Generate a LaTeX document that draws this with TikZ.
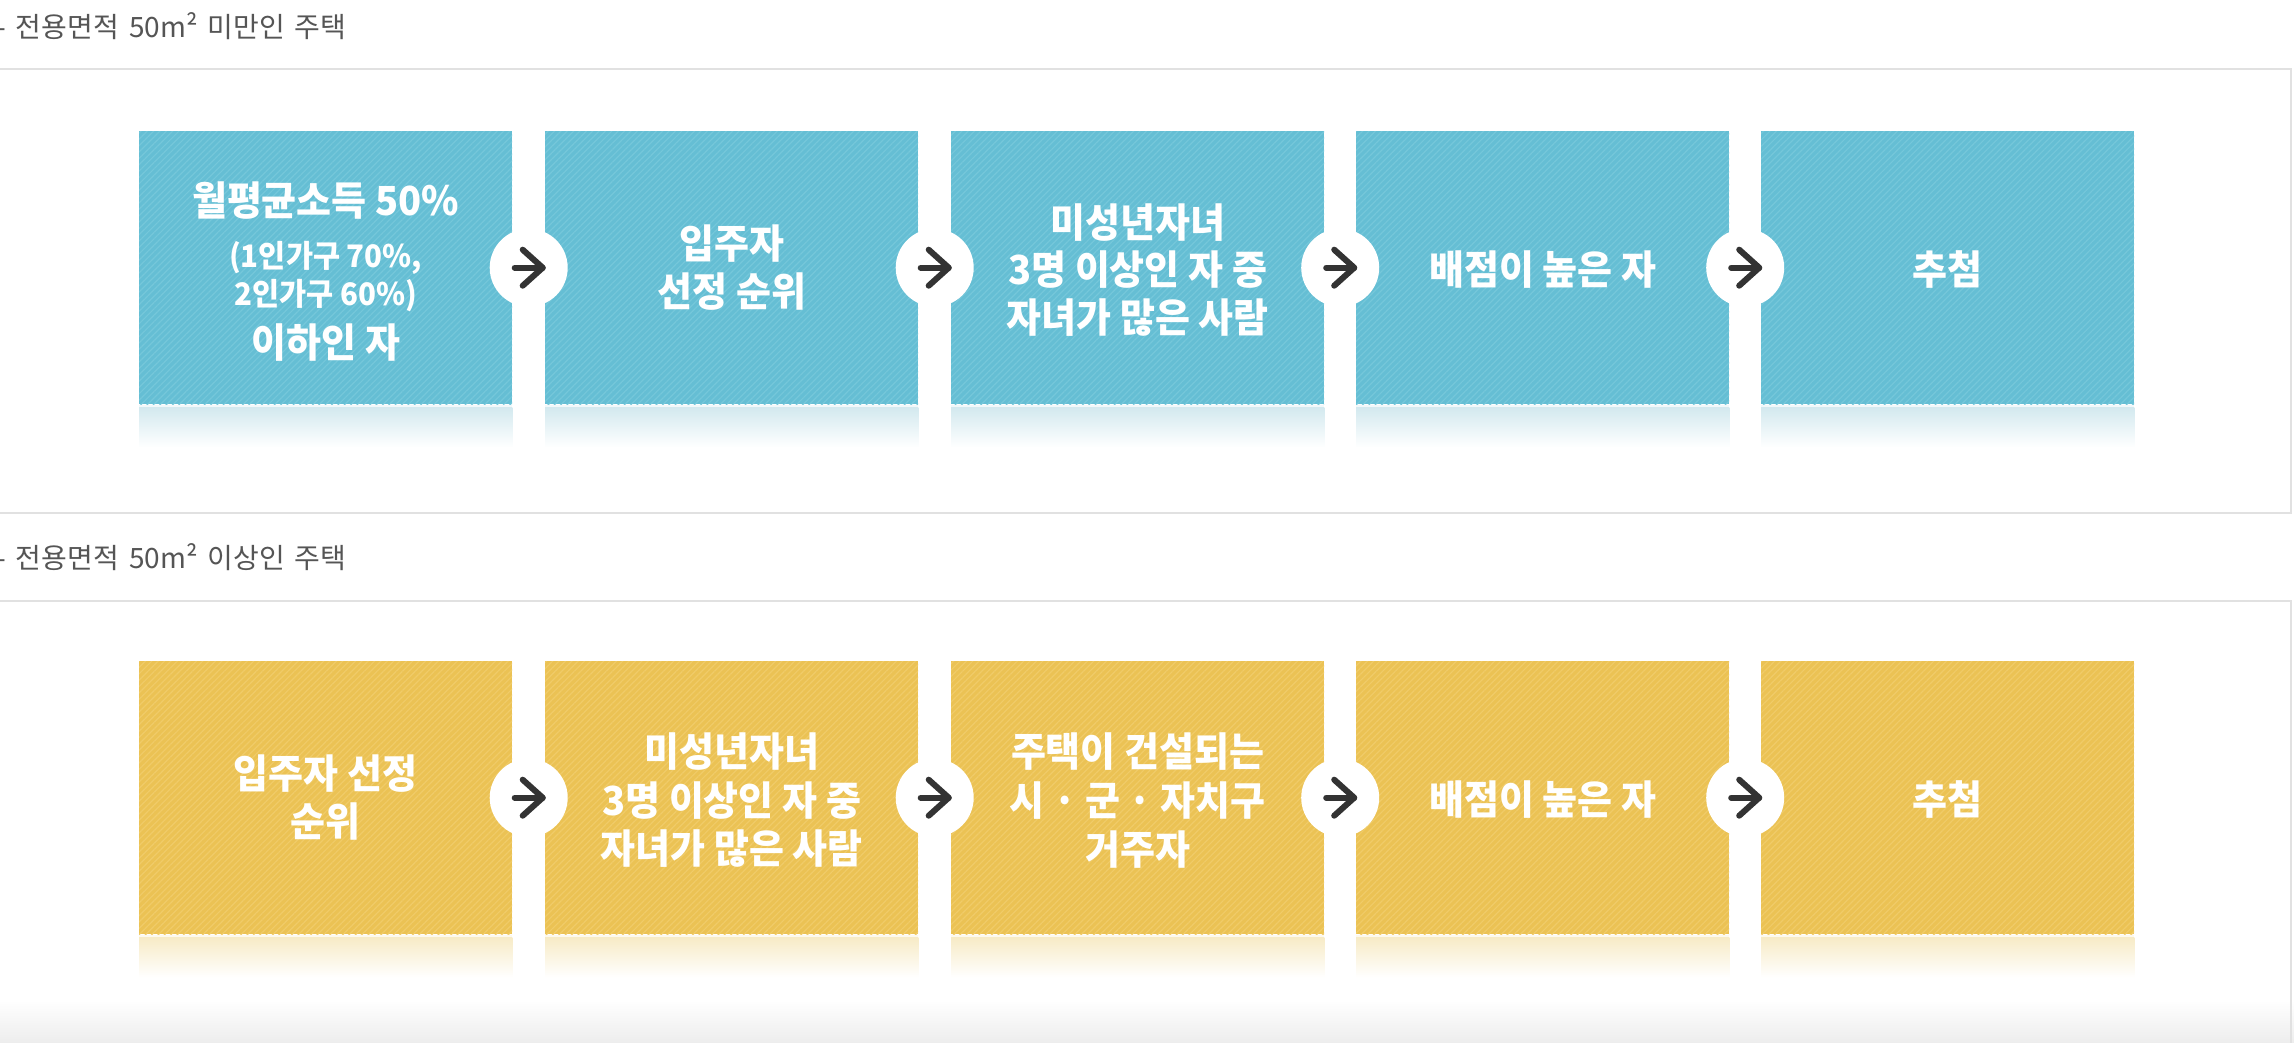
\documentclass[tikz,border=0pt]{standalone}
\usepackage{fontspec}
\newfontfamily\krfont[FakeStretch=0.95]{Noto Sans CJK KR}
\newfontfamily\krhead[FakeStretch=1.0,WordSpace=1.6]{Noto Sans CJK KR}
\usetikzlibrary{patterns.meta}
\definecolor{bluebase}{HTML}{65BED4}
\definecolor{bluestripe}{HTML}{75C7DA}
\definecolor{yelbase}{HTML}{EBC254}
\definecolor{yelstripe}{HTML}{F0CB68}
\definecolor{bluerefl}{HTML}{D3E9EF}
\definecolor{yelrefl}{HTML}{F7EBC6}
\definecolor{framec}{HTML}{E1E1E1}
\definecolor{headc}{HTML}{555555}
\definecolor{arrowc}{HTML}{333333}
\begin{document}
\begin{tikzpicture}[x=1pt,y=-1pt,
  framest/.style={draw=framec,line width=2pt},
  heading/.style={anchor=base west,inner sep=0,text=headc,font={\krhead\fontsize{28pt}{32pt}\selectfont}},
  stepbox/.style={rectangle,anchor=north west,inner sep=0,minimum width=373pt,minimum height=273pt},
  bluebox/.style={stepbox,fill=bluebase,postaction={pattern={Lines[angle=45,distance=4.5pt,line width=1.2pt]},pattern color=bluestripe}},
  yelbox/.style={stepbox,fill=yelbase,postaction={pattern={Lines[angle=45,distance=4.5pt,line width=1.2pt]},pattern color=yelstripe}},
  circ/.style={circle,fill=white,minimum size=78pt,inner sep=0},
  glyph/.style={draw=arrowc,line width=6pt,line cap=round,line join=round},
  bigt/.style={anchor=base,inner sep=0,text=white,font={\krfont\bfseries\fontsize{40pt}{48pt}\selectfont}},
  smallt/.style={anchor=base,inner sep=0,text=white,font={\krfont\bfseries\fontsize{31pt}{37pt}\selectfont}}
]
\useasboundingbox (0,0) rectangle (2294,1042);
\fill[white] (0,0) rectangle (2294,1042);
% bottom shadow
\fill[top color=white,bottom color=black!7] (0,1000) rectangle (2294,1042);

% headings and frames
\node[heading] (h1) at (-4,37.5) {- 전용면적 50m² 미만인 주택};
\draw[framest] (-10,69) rectangle (2291,513);
\node[heading] (h2) at (-4,568.5) {- 전용면적 50m² 이상인 주택};
\draw[framest] (-10,601) rectangle (2291,1080);

% ---------- row 1 ----------
\foreach \i/\x in {1/139,2/545,3/951,4/1356,5/1761}{
  \node[bluebox] (a\i) at (\x,131) {};
  \draw[line width=1.5pt,white!70!bluerefl] ([yshift=-1.5pt]a\i.south west) -- ([yshift=-1.5pt]a\i.south east);
  \fill[top color=bluerefl,bottom color=white] ([yshift=-3pt]a\i.south west) rectangle ([yshift=-43pt]a\i.south east);
}
\foreach \i/\j in {1/2,2/3,3/4,4/5}{
  \path (a\i.east) -- (a\j.west) node[midway,circ] (ca\i) {};
  \draw[glyph] ([xshift=-14pt]ca\i.center) -- ([xshift=14pt]ca\i.center);
  \draw[glyph] ([xshift=-6pt,yshift=18pt]ca\i.center) -- ([xshift=14pt]ca\i.center) -- ([xshift=-6pt,yshift=-18pt]ca\i.center);
}
\node[bigt]   (a1t1) at ([yshift=52.3pt]a1.center) {월평균소득 50\%};
\node[smallt] (a1t2) at ([yshift=0.7pt]a1.center) {(1인가구 70\%,};
\node[smallt] (a1t3) at ([yshift=-37.3pt]a1.center) {2인가구 60\%)};
\node[bigt]   (a1t4) at ([yshift=-89.7pt]a1.center) {이하인 자};

\node[bigt] (a2t1) at ([yshift=8.8pt]a2.center) {입주자};
\node[bigt] (a2t2) at ([yshift=-39.2pt]a2.center) {선정 순위};

\node[bigt] (a3t1) at ([yshift=30.3pt]a3.center) {미성년자녀};
\node[bigt] (a3t2) at ([yshift=-16.7pt]a3.center) {3명 이상인 자 중};
\node[bigt] (a3t3) at ([yshift=-64.7pt]a3.center) {자녀가 많은 사람};

\node[bigt] (a4t1) at ([yshift=-17.2pt]a4.center) {배점이 높은 자};
\node[bigt] (a5t1) at ([yshift=-17.2pt]a5.center) {추첨};

% ---------- row 2 ----------
\foreach \i/\x in {1/139,2/545,3/951,4/1356,5/1761}{
  \node[yelbox] (b\i) at (\x,661) {};
  \draw[line width=1.5pt,white!70!yelrefl] ([yshift=-1.5pt]b\i.south west) -- ([yshift=-1.5pt]b\i.south east);
  \fill[top color=yelrefl,bottom color=white] ([yshift=-3pt]b\i.south west) rectangle ([yshift=-43pt]b\i.south east);
}
\foreach \i/\j in {1/2,2/3,3/4,4/5}{
  \path (b\i.east) -- (b\j.west) node[midway,circ] (cb\i) {};
  \draw[glyph] ([xshift=-14pt]cb\i.center) -- ([xshift=14pt]cb\i.center);
  \draw[glyph] ([xshift=-6pt,yshift=18pt]cb\i.center) -- ([xshift=14pt]cb\i.center) -- ([xshift=-6pt,yshift=-18pt]cb\i.center);
}
\node[bigt] (b1t1) at ([yshift=8.8pt]b1.center) {입주자 선정};
\node[bigt] (b1t2) at ([yshift=-39.2pt]b1.center) {순위};

\node[bigt] (b2t1) at ([yshift=30.8pt]b2.center) {미성년자녀};
\node[bigt] (b2t2) at ([yshift=-18.2pt]b2.center) {3명 이상인 자 중};
\node[bigt] (b2t3) at ([yshift=-66.2pt]b2.center) {자녀가 많은 사람};

\node[bigt] (b3t1) at ([yshift=30.8pt]b3.center) {주택이 건설되는};
\node[bigt] (b3t2) at ([yshift=-18.2pt]b3.center) {시 · 군 · 자치구};
\node[bigt] (b3t3) at ([yshift=-67pt]b3.center) {거주자};

\node[bigt] (b4t1) at ([yshift=-17.2pt]b4.center) {배점이 높은 자};
\node[bigt] (b5t1) at ([yshift=-17.2pt]b5.center) {추첨};
\end{tikzpicture}
\end{document}
